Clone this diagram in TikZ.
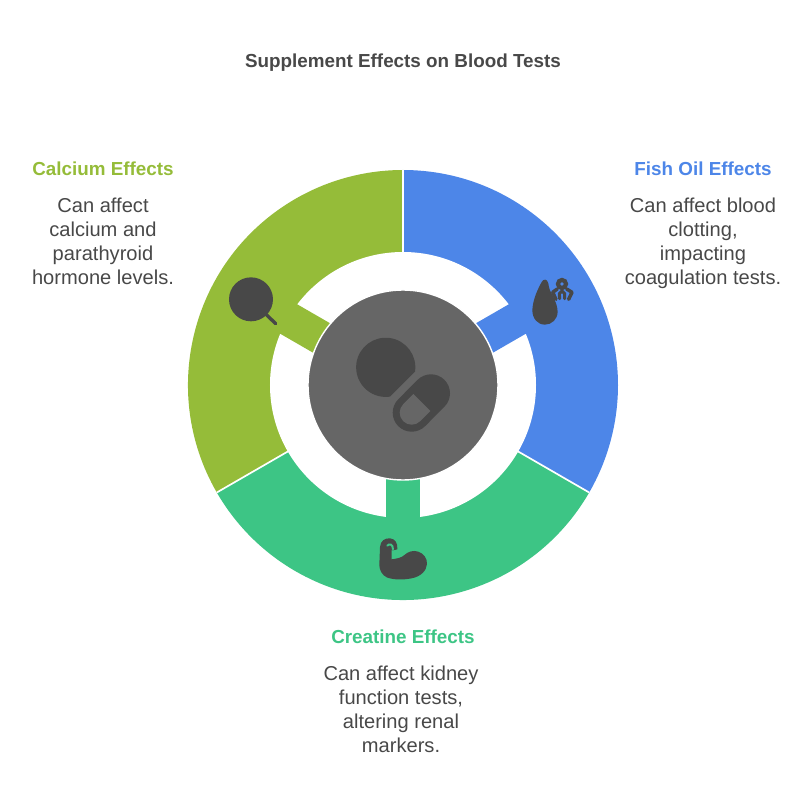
\documentclass[tikz,border=0pt]{standalone}
\usepackage{fontspec}
\setmainfont{Liberation Sans}
\usetikzlibrary{positioning}
\definecolor{fishblue}{HTML}{4D86E8}
\definecolor{creatinegreen}{HTML}{3DC585}
\definecolor{calciumolive}{HTML}{95BC39}
\definecolor{hubgray}{HTML}{666666}
\definecolor{icondark}{HTML}{484848}
\definecolor{textdark}{HTML}{484848}
\begin{document}
\begin{tikzpicture}[
    hubdisc/.style={circle, draw=white, line width=1pt, fill=hubgray, minimum size=4.75cm, inner sep=0pt},
    heading/.style={font=\fontsize{13.4}{16}\selectfont\bfseries, inner sep=0pt},
    bodytext/.style={font=\fontsize{14.3}{17.07}\selectfont, text=textdark, align=center, inner sep=0pt},
    divider/.style={white, line width=1.2pt},
    iconpx/.style={x=0.00833cm, y=-0.00833cm}
  ]
    \useasboundingbox (-10.075,-10.525) rectangle (10.225,9.625);

    \node[heading, text=textdark] (title) at (0,8.06) {Supplement Effects on Blood Tests};

    % ring segments
    \fill[fishblue]      (0,0) -- (90:5.375)  arc[start angle=90,  end angle=-30, radius=5.375] -- cycle;
    \fill[creatinegreen] (0,0) -- (-30:5.375) arc[start angle=-30, end angle=-150, radius=5.375] -- cycle;
    \fill[calciumolive]  (0,0) -- (210:5.375) arc[start angle=210, end angle=90, radius=5.375] -- cycle;
    \draw[divider] (0,3.3) -- (90:5.375);
    \draw[divider] (-30:3.3) -- (-30:5.375);
    \draw[divider] (210:3.3) -- (210:5.375);
    \fill[white] (0,0) circle[radius=3.325];
    \fill[fishblue, rotate=30]       (2,-0.425) rectangle (3.4,0.425);
    \fill[creatinegreen, rotate=-90] (2,-0.425) rectangle (3.4,0.425);
    \fill[calciumolive, rotate=150]  (2,-0.425) rectangle (3.4,0.425);
    \node[hubdisc] (hub) at (0,0) {};

    % pills in the hub
    \fill[icondark] (0.3,0.3325) arc[start angle=-8.5, end angle=278.3, radius=0.74] -- cycle;
    \draw[icondark, line width=0.95cm, line cap=round] (0.2175,-0.6925) -- (0.7,-0.2075);
    \begin{scope}[shift={(0.2175,-0.6925)}, rotate=45]
      \fill[hubgray] (0.36,-0.3) -- (0.36,0.3) -- (0,0.3) arc[start angle=90, end angle=270, radius=0.3] -- cycle;
    \end{scope}

    % drop and clot
    \begin{scope}[shift={(2.425,3.125)}, iconpx]
      \fill[icondark] (97,150) .. controls (99,115) and (115,85) .. (125,66)
        .. controls (130,56) and (142,56) .. (145,70)
        .. controls (147,100) and (172,120) .. (173,155)
        .. controls (173,178) and (155,194) .. (135,194)
        .. controls (113,194) and (97,176) .. (97,150) -- cycle;
      \draw[icondark, line width=3pt] (186,72) circle[radius=12];
      \draw[icondark, line width=2.5pt, line cap=round, line join=round] (172,87) -- (158,97) -- (168,118);
      \draw[icondark, line width=2.5pt, line cap=round, line join=round] (200,87) -- (216,97) -- (206,118);
      \draw[icondark, line width=2.2pt, line cap=round, line join=round] (179,116) -- (178,101) -- (186,93) -- (194,101) -- (194,116);
    \end{scope}

    % flexed arm
    \begin{scope}[shift={(-1.075,-3.375)}, iconpx]
      \fill[icondark] (58,135) -- (60,82) .. controls (61,62) and (75,54) .. (90,55)
        .. controls (105,56) and (114,70) .. (112,88) -- (99,91) -- (95,90) -- (95,118)
        .. controls (110,116) and (125,113) .. (132,106)
        .. controls (145,94) and (160,90) .. (175,95)
        .. controls (192,101) and (202,116) .. (201,132)
        .. controls (200,152) and (182,170) .. (155,175)
        .. controls (130,180) and (100,180) .. (80,172)
        .. controls (66,165) and (58,150) .. (58,135) -- cycle;
      \draw[creatinegreen, line width=1.4pt, line cap=round] (82,77) .. controls (88,70) and (99,72) .. (99,88);
    \end{scope}

    % magnifier
    \begin{scope}[shift={(-4.7,3.0)}, iconpx]
      \draw[icondark, line width=2.4pt, line cap=round] (150,145) -- (182,176);
      \fill[icondark] (108,103) circle[radius=66];
    \end{scope}

    % labels
    \node[heading, text=fishblue] (fishhead) at (7.5,5.4) {Fish Oil Effects};
    \node[bodytext, below=0.53cm of fishhead] (fishtext) {Can affect blood\\clotting,\\impacting\\coagulation tests.};
    \node[heading, text=calciumolive] (calciumhead) at (-7.5,5.4) {Calcium Effects};
    \node[bodytext, below=0.53cm of calciumhead] (calciumtext) {Can affect\\calcium and\\parathyroid\\hormone levels.};
    \node[heading, text=creatinegreen] (creatinehead) at (0,-6.3) {Creatine Effects};
    \node[bodytext, below=0.53cm of creatinehead, xshift=-0.05cm] (creatinetext) {Can affect kidney\\function tests,\\altering renal\\markers.};
  \end{tikzpicture}
\end{document}
